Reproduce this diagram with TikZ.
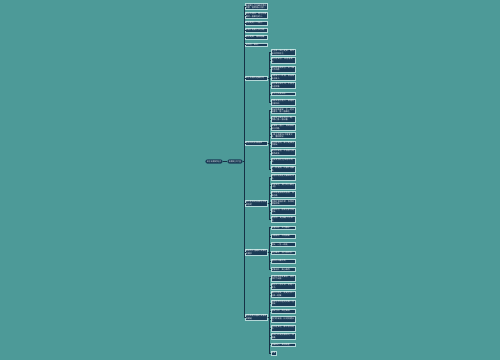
\documentclass[tikz,border=0pt]{standalone}
\usepackage{fontspec}
\newfontfamily\cjk{Noto Sans CJK SC}
\XeTeXlinebreaklocale "zh"
\XeTeXlinebreakskip = 0pt plus 0.3pt
\definecolor{mapbg}{HTML}{4D9A98}
\definecolor{boxfill}{HTML}{1B3B56}
\definecolor{boxline}{HTML}{B4D8D8}
\definecolor{linkcol}{HTML}{163246}
\tikzset{
  mapnode/.style = {shape=rectangle, draw=boxline, fill=boxfill,
                    text=white, align=left, line width=0.3pt,
                    font=\cjk\fontsize{2.05}{2.5}\selectfont,
                    inner xsep=0.6pt, inner ysep=0.8pt},
  rootnode/.style = {mapnode, draw=none, rounded corners=2.3pt,
                     inner xsep=1.5pt, inner ysep=1.2pt},
  topic/.style    = {mapnode, text width=21.2pt, anchor=west},
  leaf/.style     = {mapnode, text width=23.4pt, anchor=west},
  link/.style     = {draw=linkcol, line width=0.6pt}
}

\begin{document}
\begin{tikzpicture}[x=1pt, y=-1pt]
  \fill[mapbg] (0,0) rectangle (500,360);

  \node[rootnode] (root) at (214,161.5) {关于友情的句子};
  \node[rootnode] (main) at (235,161.5) {友情句子大全};
  \draw[link] (root) -- (main);

  % first column
  \node[topic] (t1) at (245,6.5) {友谊是人生中最珍贵的财富，值得用心守护。};
  \node[topic] (t2) at (245,15) {真正的朋友，是在你需要时一直都在的人。};
  \node[topic] (t3) at (245,23) {朋友是另一个自己。};
  \node[topic] (t4) at (245,30) {友情不需要太多言语。};
  \node[topic] (t5) at (245,37) {相识是缘，相知是福。};
  \node[topic] (t6) at (245,44.5) {有你在，真好。};
  \node[topic] (b1) at (245,78) {关于友情的经典名句};
  \node[topic] (b2) at (245,143) {朋友间的友情语录};
  \node[topic] (b3) at (245,203) {感人至深的友情句子有哪些呢};
  \node[topic] (b4) at (245,252) {简短而又温暖的友情短句摘抄};
  \node[topic] (b5) at (245,317) {适合发朋友圈的友情说说精选};

  \foreach \n in {t1,t2,t3,t4,t5,t6,b1,b2,b3,b4,b5}
    \draw[link] (main.east) -- ++(1.8,0) |- (\n.west);

  % second column
  \foreach \txt [count=\i from 1] in {人生得一知己足矣，斯世当以同怀视之。,
      海内存知己，天涯若比邻。, 莫愁前路无知己，天下谁人不识君。,
      劝君更尽一杯酒，西出阳关无故人。, 桃花潭水深千尺，不及汪伦送我情。,
      君子之交淡如水。, 同是天涯沦落人，相逢何必曾相识。}
    \node[leaf] (c\i) at (270.5,{52+(\i-1)*8.36}) {\txt};
  \foreach \txt [count=\i from 8] in {朋友就像星星，不一定总能看见，但一直都在。,
      好朋友不是天天在一起，而是心里一直记着。, 友情是一盏灯，照亮彼此前行的路。,
      一辈子的朋友不需要太多，懂你就好。, 时间会证明，谁才是真正的朋友。,
      真正的友谊，不会因为距离而改变。, 朋友是我们在风雨中的伞。,
      有一种友情，叫做不用解释。}
    \node[leaf] (c\i) at (270.5,{52+(\i-1)*8.36}) {\txt};
  \foreach \txt [count=\i from 16] in {谢谢你陪我走过最难的日子。,
      不管多远，我们的心都在一起。, 陪伴是最长情的告白，友情也是。,
      你笑时我陪你笑，你哭时我陪你哭。, 多年以后，愿我们依然是朋友。,
      遇见你，是我最大的幸运。}
    \node[leaf] (c\i) at (270.5,{52+(\i-1)*8.36}) {\txt};
  \foreach \txt [count=\i from 22] in {友谊长存，岁月静好。, 一路有你，不再孤单。,
      朋友，一生一起走。, 知己难求，且行且珍惜。, 懂你的人最珍贵。,
      友情无价，真心难得。}
    \node[leaf] (c\i) at (270.5,{52+(\i-1)*8.36}) {\txt};
  \foreach \txt [count=\i from 28] in {今天和老朋友聚会，感觉回到了从前。,
      有些人一旦认识，就是一辈子。, 最好的朋友，就是可以一起疯一起傻。,
      感谢生命中遇见的每一位朋友。, 朋友之间，贵在真诚。,
      我们的友谊，比时间更长久。, 无论走多远，都不会忘记你。,
      愿我们的友情像阳光一样温暖。, 兄弟同心，其利断金。}
    \node[leaf] (c\i) at (270.5,{52+(\i-1)*8.36}) {\txt};
  \node[mapnode, anchor=west] (c37) at (270.5,353) {友情};

  \foreach \i in {1,...,7}   \draw[link] (b1.east) -- ++(1.5,0) |- (c\i.west);
  \foreach \i in {8,...,15}  \draw[link] (b2.east) -- ++(1.5,0) |- (c\i.west);
  \foreach \i in {16,...,21} \draw[link] (b3.east) -- ++(1.5,0) |- (c\i.west);
  \foreach \i in {22,...,27} \draw[link] (b4.east) -- ++(1.5,0) |- (c\i.west);
  \foreach \i in {28,...,37} \draw[link] (b5.east) -- ++(1.5,0) |- (c\i.west);
\end{tikzpicture}
\end{document}
